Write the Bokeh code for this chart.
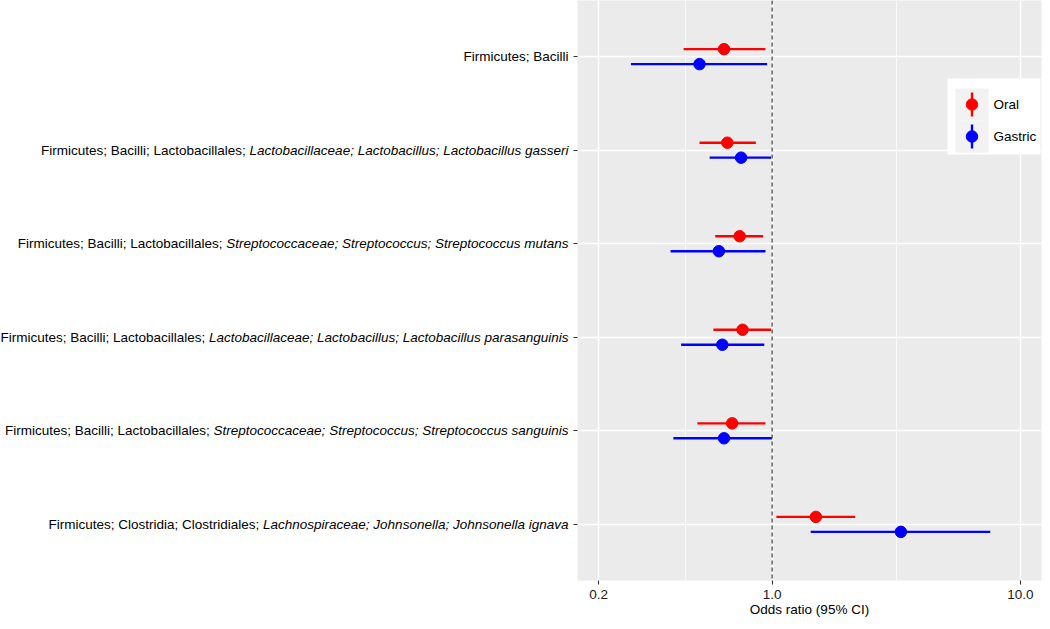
import math
from bokeh.plotting import figure
from bokeh.layouts import row
from bokeh.models import (Range1d, LinearScale, FixedTicker, CustomJSTickFormatter,
                          Span, ColumnDataSource)
from bokeh.core.properties import value
from bokeh.embed import file_html
from bokeh.resources import INLINE

# ---------------- data ----------------
taxa_prefix = [
    "Firmicutes; Bacilli",
    "Firmicutes; Bacilli; Lactobacillales; ",
    "Firmicutes; Bacilli; Lactobacillales; ",
    "Firmicutes; Bacilli; Lactobacillales; ",
    "Firmicutes; Bacilli; Lactobacillales; ",
    "Firmicutes; Clostridia; Clostridiales; ",
]
taxa_italic = [
    "",
    "Lactobacillaceae; Lactobacillus; Lactobacillus gasseri",
    "Streptococcaceae; Streptococcus; Streptococcus mutans",
    "Lactobacillaceae; Lactobacillus; Lactobacillus parasanguinis",
    "Streptococcaceae; Streptococcus; Streptococcus sanguinis",
    "Lachnospiraceae; Johnsonella; Johnsonella ignava",
]
oral_or = [0.64, 0.66, 0.74, 0.76, 0.69, 1.50]
oral_lo = [0.44, 0.51, 0.59, 0.58, 0.50, 1.04]
oral_hi = [0.94, 0.86, 0.92, 0.99, 0.94, 2.16]
gastric_or = [0.51, 0.75, 0.61, 0.63, 0.64, 3.30]
gastric_lo = [0.27, 0.56, 0.39, 0.43, 0.40, 1.43]
gastric_hi = [0.955, 0.99, 0.94, 0.93, 0.998, 7.56]
series_names = ["Oral", "Gastric"]
series_colors = ["#FF0000", "#0000FF"]
x_ticks = [0.2, 1.0, 10.0]
x_label = "Odds ratio (95% CI)"

# ---------------- layout ----------------
FONT = "Liberation Sans"
FS = 13.5
LABW = 570          # width of the label strip
FW, FH = 464, 580
TOP, BOTTOM = 0, 41
DODGE = 0.08

n = len(taxa_prefix)
ypos = [n - i for i in range(n)]  # first category on top

lo_lim, hi_lim = 0.2, 10.0
span = math.log10(hi_lim) - math.log10(lo_lim)
x0 = 10 ** (math.log10(lo_lim) - 0.05 * span)
x1 = 10 ** (math.log10(hi_lim) + 0.05 * span)
yr = Range1d(0.4, n + 0.6)

p = figure(x_axis_type="log", x_range=Range1d(x0, x1), y_range=yr,
           frame_width=FW, frame_height=FH, min_border_left=7, min_border_right=1,
           min_border_top=TOP, min_border_bottom=BOTTOM,
           output_backend="svg", toolbar_location=None, background_fill_color="#EBEBEB",
           border_fill_color="white", outline_line_color=None)

# pixel-space helper ranges (frame-relative, y downward) for the legend
p.extra_x_ranges = {"px": Range1d(0, FW)}
p.extra_y_ranges = {"py": Range1d(FH, 0)}
p.extra_x_scales = {"px": LinearScale()}
p.extra_y_scales = {"py": LinearScale()}

# grids
p.xgrid.ticker = FixedTicker(ticks=x_ticks, minor_ticks=[math.sqrt(0.2), math.sqrt(10)])
p.xgrid.grid_line_color = "white"
p.xgrid.grid_line_width = 1.4
p.xgrid.minor_grid_line_color = "white"
p.xgrid.minor_grid_line_width = 0.7
p.ygrid.ticker = FixedTicker(ticks=ypos)
p.ygrid.grid_line_color = "white"
p.ygrid.grid_line_width = 1.4

# axes
xa = p.xaxis[0]
xa.ticker = FixedTicker(ticks=x_ticks)
xa.formatter = CustomJSTickFormatter(code="return tick.toFixed(1);")
xa.axis_line_color = None
xa.major_tick_line_color = "#333333"
xa.major_tick_line_width = 1.1
xa.major_tick_in = 0
xa.major_tick_out = 4
xa.minor_tick_line_color = None
xa.major_label_text_font = FONT
xa.major_label_text_font_size = f"{FS}px"
xa.major_label_text_color = "#1A1A1A"
xa.major_label_standoff = 5
xa.axis_label = x_label
xa.axis_label_text_font = FONT
xa.axis_label_text_font_size = f"{FS}px"
xa.axis_label_text_font_style = "normal"
xa.axis_label_text_color = "#000000"
xa.axis_label_standoff = 0

ya = p.yaxis[0]
ya.ticker = FixedTicker(ticks=ypos)
ya.major_label_overrides = {y: "" for y in ypos}
ya.axis_line_color = None
ya.major_tick_line_color = "#333333"
ya.major_tick_line_width = 1.1
ya.major_tick_in = 0
ya.major_tick_out = 4
ya.minor_tick_line_color = None
ya.major_label_standoff = 0
ya.major_label_text_font_size = "1px"

# reference line at OR = 1
p.add_layout(Span(location=1.0, dimension="height", line_color="#4D4D4D",
                  line_dash="4 3", line_width=1.3))

# data
series = [(oral_or, oral_lo, oral_hi, +DODGE), (gastric_or, gastric_lo, gastric_hi, -DODGE)]
for (orv, lov, hiv, off), col in zip(series, series_colors):
    src = ColumnDataSource(dict(y=[v + off for v in ypos], est=orv, lo=lov, hi=hiv))
    p.segment(x0="lo", y0="y", x1="hi", y1="y", source=src, line_color=col, line_width=2.4)
    p.scatter(x="est", y="y", source=src, size=11.5, fill_color=col, line_color=col)

# legend (drawn in frame pixel space)
LW, LH = 93, 76
LX = FW - LW - 1
LY = 78
key_x0, key_w, key_h, key_y0 = 8, 33, 32, 10
p.quad(left=[LX], right=[LX + LW], top=[LY], bottom=[LY + LH], x_range_name="px",
       y_range_name="py", fill_color="white", line_color=None)
for i, (name, col) in enumerate(zip(series_names, series_colors)):
    ky = LY + key_y0 + i * key_h
    cx = LX + key_x0 + key_w / 2
    cy = ky + key_h / 2
    p.quad(left=[LX + key_x0], right=[LX + key_x0 + key_w], top=[ky], bottom=[ky + key_h],
           x_range_name="px", y_range_name="py", fill_color="#F2F2F2", line_color=None)
    p.segment(x0=[cx], y0=[cy - 12], x1=[cx], y1=[cy + 12], x_range_name="px",
              y_range_name="py", line_color=col, line_width=2.4)
    p.scatter(x=[cx], y=[cy], x_range_name="px", y_range_name="py", size=11.5,
              fill_color=col, line_color=col)
    p.text(x=[LX + key_x0 + key_w + 5], y=[cy], text=[name], x_range_name="px",
           y_range_name="py", text_align="left", text_baseline="middle",
           text_font_size=f"{FS}px", text_color="#000000", text_font=value(FONT))

# ---------------- category label strip (regular + italic parts) ----------------
W = {' ': 278, ';': 278, 'L': 556, 'S': 667, 'J': 500, 'a': 556, 'b': 556, 'c': 500,
     'e': 556, 'g': 556, 'h': 556, 'i': 222, 'l': 222, 'm': 833, 'n': 556, 'o': 556,
     'p': 556, 'r': 333, 's': 500, 't': 278, 'u': 556, 'v': 500}
def tw(s):
    return sum(W.get(c, 556) for c in s) * FS / 1000.0

XEND = LABW - 2
lab = figure(x_range=Range1d(0, LABW), y_range=yr, frame_width=LABW, frame_height=FH,
             min_border_left=0, min_border_right=0, min_border_top=TOP,
             min_border_bottom=BOTTOM, x_axis_location=None, y_axis_location=None,
             output_backend="svg", toolbar_location=None, outline_line_color=None,
             background_fill_color="white", border_fill_color="white")
lab.xgrid.visible = False
lab.ygrid.visible = False
it_src = ColumnDataSource(dict(x=[XEND] * n, y=ypos, t=taxa_italic))
re_src = ColumnDataSource(dict(x=[XEND - tw(t) for t in taxa_italic], y=ypos, t=taxa_prefix))
lab.text(x="x", y="y", text="t", source=it_src, text_align="right", text_baseline="middle",
         text_font=value(FONT), text_font_size=f"{FS}px", text_font_style="italic",
         text_color="#000000")
lab.text(x="x", y="y", text="t", source=re_src, text_align="right", text_baseline="middle",
         text_font=value(FONT), text_font_size=f"{FS}px", text_color="#000000")

layout = row(lab, p)
open("out.html", "w").write(file_html(layout, INLINE))
